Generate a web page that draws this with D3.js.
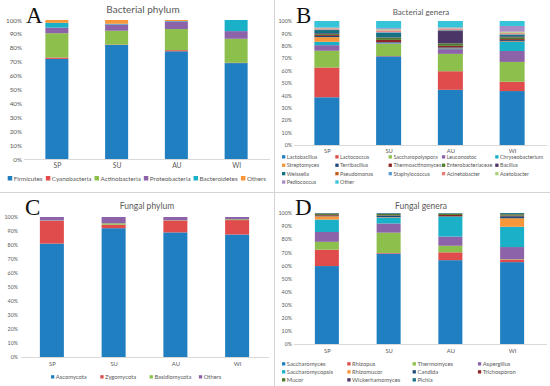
<!DOCTYPE html>
<html>
<head>
<meta charset="utf-8">
<script src="https://cdn.jsdelivr.net/npm/d3@7"></script>
<style>
  body { margin: 0; background: #fff; }
  svg { display: block; font-family: Lato, "Liberation Sans", sans-serif; }
</style>
</head>
<body>
<script>
// seasons shared by all four panels
const seasons = ['SP', 'SU', 'AU', 'WI'];
const yTicks = [0, 0.1, 0.2, 0.3, 0.4, 0.5, 0.6, 0.7, 0.8, 0.9, 1];

// A - bacterial phylum (% per season, SP SU AU WI)
const bacPhylumNames = ['Firmicutes', 'Cyanobacteria', 'Actinobacteria', 'Proteobacteria', 'Bacteroidetes', 'Others'];
const bacPhylumValues = [
  [72, 82, 77.5, 69],
  [1, 0.3, 0.8, 0.2],
  [17.5, 10, 15.2, 17.3],
  [4, 4.5, 5.5, 5.5],
  [3.5, 0.5, 0.3, 8],
  [2, 2.7, 0.7, 0]
];

// B - bacterial genera
const bacGeneraNames = ['Lactobacillus', 'Lactococcus', 'Saccharopolyspora', 'Leuconostoc', 'Chryseobacterium',
  'Streptomyces', 'Terribacillus', 'Thermoactinomyces', 'Enterobacteriaceae', 'Bacillus',
  'Weissella', 'Pseudomonas', 'Staphylococcus', 'Acinetobacter', 'Acetobacter',
  'Pediococcus', 'Other'];
const bacGeneraValues = [
  [38.5, 71.5, 44.5, 43.5],
  [24, 0.3, 15, 7.5],
  [13.5, 9.8, 14, 16],
  [4.5, 0.5, 3.8, 8.8],
  [2.7, 0.2, 0.3, 7.3],
  [3.8, 0.2, 0.3, 0.5],
  [1, 0.5, 0.8, 1],
  [0.8, 1.8, 1.3, 0.8],
  [0.8, 1.8, 1.9, 1.5],
  [0.6, 0.3, 10, 0.8],
  [2.5, 3.6, 0.5, 1.2],
  [0.3, 0.2, 0.2, 0.3],
  [0.3, 0.5, 0.3, 0.5],
  [0.8, 1.2, 1, 0.8],
  [0.3, 0.8, 0.3, 0.9],
  [0.4, 1, 0.6, 4.6],
  [5.2, 5.8, 5.2, 4]
];

// C - fungal phylum
const funPhylumNames = ['Ascomycota', 'Zygomycota', 'Basidiomycota', 'Others'];
const funPhylumValues = [
  [81, 92, 89, 87.5],
  [16.3, 2.5, 8.5, 10.3],
  [0.2, 1, 0.2, 0.6],
  [2.5, 4.5, 2.3, 1.6]
];

// D - fungal genera
const funGeneraNames = ['Saccharomyces', 'Rhizopus', 'Thermomyces', 'Aspergillus', 'Saccharomycopsis',
  'Rhizomucor', 'Candida', 'Trichosporon', 'Mucor', 'Wickerhamomyces', 'Pichia'];
const funGeneraValues = [
  [59.5, 69, 64, 62.5],
  [12.5, 0.5, 6, 2],
  [6, 15.5, 5, 0.3],
  [7.5, 7, 7, 9.2],
  [9.5, 4.5, 15, 15.5],
  [2.5, 0.3, 0.3, 6.5],
  [0.5, 1.2, 0.4, 1.5],
  [0.5, 0.3, 0.8, 0.5],
  [1, 1, 1, 1],
  [0.3, 0.3, 0.2, 0.3],
  [0.2, 0.4, 0.3, 0.7]
];

// excel-ish colour cycle
const palette = ['#1f7fc1', '#e04c4c', '#8cbf4b', '#8c62a8', '#1ab0c8', '#f8963a',
  '#1c4a78', '#8b2626', '#4f7a2b', '#4a3566', '#137181', '#c55a15',
  '#5b9bd5', '#ea7b7b', '#a9d17b', '#a98cc5', '#35c4d8'];
const phylumColors = ['#1f7fc1', '#e04c4c', '#8cbf4b', '#8c62a8', '#1ab0c8', '#f8963a'];

const W = 550, H = 386;
const svg = d3.select('body').append('svg').attr('width', W).attr('height', H);

// panel borders
svg.append('line').attr('x1', 274.5).attr('x2', 274.5).attr('y1', 0).attr('y2', H)
  .attr('stroke', '#d4d4d4').attr('stroke-width', 1);
svg.append('line').attr('x1', 0).attr('x2', W).attr('y1', 192.5).attr('y2', 192.5)
  .attr('stroke', '#d4d4d4').attr('stroke-width', 1);

function drawPanel(p) {
  const g = svg.append('g');
  const x = d3.scalePoint().domain(seasons).range(p.xRange).padding(0.5);
  const y = d3.scaleLinear().domain([0, 1]).range(p.yRange);

  // rows -> one object per season
  const table = seasons.map((s, i) => {
    const row = { season: s };
    p.names.forEach((n, j) => { row[n] = p.values[j][i] / 100; });
    return row;
  });
  const series = d3.stack().keys(p.names)(table);

  g.selectAll('g.layer').data(series).join('g')
    .attr('fill', (d, i) => p.colors[i])
    .selectAll('rect').data(d => d).join('rect')
    .attr('x', d => x(d.data.season) - p.barW / 2)
    .attr('width', p.barW)
    .attr('y', d => y(d[1]))
    .attr('height', d => Math.max(0, y(d[0]) - y(d[1])));

  // y axis
  const ya = g.append('g').attr('transform', `translate(${p.yAxisX},0)`)
    .call(d3.axisLeft(y).tickValues(yTicks).tickFormat(d3.format('.0%')).tickSize(0).tickPadding(0));
  ya.select('.domain').remove();
  ya.selectAll('text').attr('fill', '#595959').style('font-size', p.tickFont + 'px').style('font-family', 'Lato');

  // x axis
  const xa = g.append('g').attr('transform', `translate(0,${p.yRange[0]})`)
    .call(d3.axisBottom(x).tickSize(0).tickPadding(p.xPad));
  xa.select('.domain').attr('stroke', '#d9d9d9').attr('d', `M${p.axisX[0]},0.5H${p.axisX[1]}`);
  xa.selectAll('text').attr('fill', '#595959').style('font-size', p.xFont + 'px').style('font-family', 'Lato');

  // title + panel letter
  g.append('text').attr('x', p.titleX).attr('y', p.titleY).attr('text-anchor', 'middle')
    .attr('fill', '#595959').style('font-size', p.titleFont + 'px').text(p.title);
  g.append('text').attr('x', p.letterX).attr('y', p.letterY)
    .style('font-family', '"Liberation Serif", "DejaVu Serif", serif').style('font-size', '23px')
    .attr('fill', '#111').text(p.letter);

  // legend
  const lg = g.append('g');
  const items = lg.selectAll('g').data(p.names).join('g');
  items.append('rect').attr('width', p.sw).attr('height', p.sw).attr('y', -p.sw + 0.5)
    .attr('fill', (d, i) => p.colors[i]);
  items.append('text').attr('x', p.sw + 1.5).attr('y', 0.5).attr('dy', '0.05em')
    .attr('fill', '#595959').style('font-size', p.legendFont + 'px').text(d => d);

  if (p.legendFlow) {
    // single row, packed by text width and centred
    let cx = 0;
    const pos = [];
    items.each(function () {
      pos.push(cx);
      cx += this.getBBox().width + p.legendGap;
    });
    const total = cx - p.legendGap;
    const start = p.legendCenter - total / 2;
    items.attr('transform', (d, i) => `translate(${start + pos[i]},${p.legendY})`);
  } else {
    items.attr('transform', (d, i) =>
      `translate(${p.legendX + (i % p.cols) * p.colW},${p.legendY + Math.floor(i / p.cols) * p.rowH})`);
  }
}

drawPanel({
  names: bacPhylumNames, values: bacPhylumValues, colors: phylumColors,
  xRange: [27, 266], yRange: [159, 20], barW: 23, yAxisX: 22, axisX: [24, 270],
  tickFont: 6.3, xFont: 6.8, xPad: 4,
  title: 'Bacterial phylum', titleX: 143, titleY: 13, titleFont: 10,
  letter: 'A', letterX: 26, letterY: 23,
  sw: 4.5, legendFont: 6.3, legendFlow: true, legendGap: 3, legendCenter: 137, legendY: 180
});

drawPanel({
  names: bacGeneraNames, values: bacGeneraValues, colors: palette,
  xRange: [296, 543], yRange: [145, 21], barW: 25, yAxisX: 292, axisX: [294, 547],
  tickFont: 5.3, xFont: 5.8, xPad: 4,
  title: 'Bacterial genera', titleX: 421, titleY: 15, titleFont: 8,
  letter: 'B', letterX: 296, letterY: 23,
  sw: 3.3, legendFont: 5.4, legendX: 282, legendY: 158, cols: 5, colW: 53.3, rowH: 8.4
});

drawPanel({
  names: funPhylumNames, values: funPhylumValues, colors: phylumColors,
  xRange: [21, 268], yRange: [357, 217], barW: 24, yAxisX: 18, axisX: [21, 269],
  tickFont: 5.3, xFont: 5.8, xPad: 5,
  title: 'Fungal phylum', titleX: 147, titleY: 209, titleFont: 8.5,
  letter: 'C', letterX: 25, letterY: 215,
  sw: 3.3, legendFont: 5.8, legendX: 51, legendY: 378, cols: 4, colW: 49.3, rowH: 8
});

drawPanel({
  names: funGeneraNames, values: funGeneraValues, colors: palette.slice(0, 11),
  xRange: [296, 543], yRange: [344, 213], barW: 24, yAxisX: 292, axisX: [294, 547],
  tickFont: 5.3, xFont: 5.8, xPad: 5,
  title: 'Fungal genera', titleX: 421, titleY: 209, titleFont: 8.5,
  letter: 'D', letterX: 295, letterY: 215,
  sw: 3.3, legendFont: 5.8, legendX: 282, legendY: 365, cols: 4, colW: 65.3, rowH: 8
});
</script>
</body>
</html>
